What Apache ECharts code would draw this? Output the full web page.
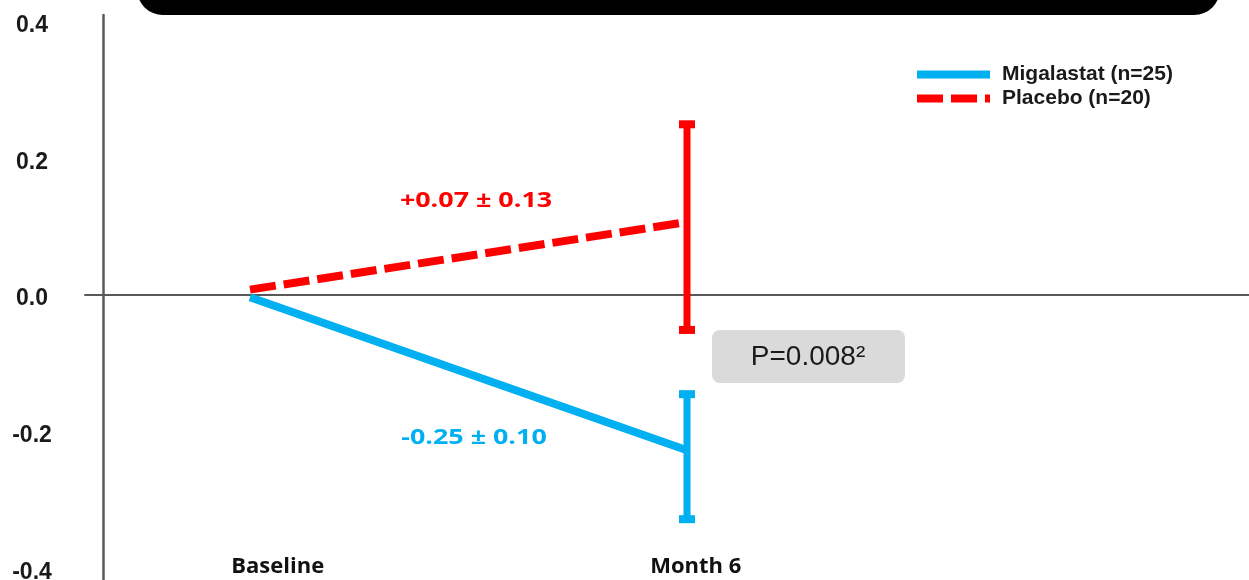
<!DOCTYPE html>
<html>
<head>
<meta charset="utf-8">
<script src="https://cdn.jsdelivr.net/npm/echarts@6/dist/echarts.min.js"></script>
<style>
html,body{margin:0;padding:0;background:#fff;}
#chart{width:1249px;height:580px;}
</style>
</head>
<body>
<div id="chart"></div>
<script>
// ---- data ----
const categories = ['Baseline', 'Month 6'];
const months = [0, 6];
const seriesNames = ['Migalastat (n=25)', 'Placebo (n=20)'];
const migalastatMean = [-0.003, -0.227];
const migalastatLow = [null, -0.328];
const migalastatHigh = [null, -0.145];
const placeboMean = [0.008, 0.107];
const placeboLow = [null, -0.051];
const placeboHigh = [null, 0.250];
const yTicks = [-0.4, -0.2, 0.0, 0.2, 0.4];
const changeLabels = ['-0.25 ± 0.10', '+0.07 ± 0.13'];
const pValueText = 'P=0.008²';

const BLUE = '#00B0F0', RED = '#FF0000', AXIS = '#595959';

function pairs(xs, ys) { return xs.map((x, i) => [x, ys[i]]); }
function bars(xs, lo, hi) {
  const out = [];
  xs.forEach((x, i) => { if (lo[i] != null) out.push([x, lo[i], hi[i]]); });
  return out;
}
function errorBar(color) {
  return function (params, api) {
    const x = api.value(0);
    const pTop = api.coord([x, api.value(2)]);
    const pBot = api.coord([x, api.value(1)]);
    const bw = 7, cw = 16, ch = 8;
    return {
      type: 'group',
      children: [
        { type: 'rect', shape: { x: pTop[0] - bw / 2, y: pTop[1], width: bw, height: pBot[1] - pTop[1] }, style: { fill: color } },
        { type: 'rect', shape: { x: pTop[0] - cw / 2, y: pTop[1] - ch / 2, width: cw, height: ch }, style: { fill: color } },
        { type: 'rect', shape: { x: pBot[0] - cw / 2, y: pBot[1] - ch / 2, width: cw, height: ch }, style: { fill: color } }
      ]
    };
  };
}

const chart = echarts.init(document.getElementById('chart'), null, { renderer: 'canvas' });
const xMin = -2.266, xMax = 13.717;
chart.setOption({
  animation: false,
  backgroundColor: '#ffffff',
  grid: { left: 85, right: 0, top: 15, bottom: 0, containLabel: false, outerBoundsMode: 'none' },
  legend: {
    data: seriesNames,
    orient: 'vertical',
    left: 908, top: 59,
    itemWidth: 73, itemHeight: 10, itemGap: 3,
    itemStyle: { opacity: 0 },
    lineStyle: { width: 8 },
    textStyle: { fontFamily: '"Liberation Sans", Arial, sans-serif', fontWeight: 'bold', fontSize: 21, color: '#1a1a1a', padding: [0, 0, 0, 7] }
  },
  xAxis: [
    {
      type: 'value', min: xMin, max: xMax,
      axisLine: { show: true, onZero: true, lineStyle: { color: AXIS, width: 2 } },
      axisTick: { show: false }, axisLabel: { show: false }, splitLine: { show: false }
    },
    {
      type: 'value', min: xMin, max: xMax, position: 'bottom',
      axisLine: { show: false, onZero: false }, axisTick: { show: false }, splitLine: { show: false },
      axisLabel: {
        show: true,
        customValues: [months[0] + 0.38, months[1] + 0.12],
        formatter: function (v) {
          let best = 0;
          months.forEach((m, i) => { if (Math.abs(m - v) < Math.abs(months[best] - v)) best = i; });
          return categories[best];
        },
        margin: -13, verticalAlign: 'middle',
        fontFamily: '"Open Sans", sans-serif', fontWeight: 'bold', fontSize: 22, color: '#111'
      }
    }
  ],
  yAxis: {
    type: 'value', min: -0.417, max: 0.41, offset: -18,
    axisLine: { show: true, onZero: false, lineStyle: { color: AXIS, width: 2.5 } },
    axisTick: { show: false }, splitLine: { show: false },
    axisLabel: {
      customValues: yTicks,
      formatter: v => '{t|' + v.toFixed(1) + '}',
      margin: 71, align: 'center',
      rich: { t: { padding: [8, 0, 0, 0], fontFamily: '"Liberation Sans", Arial, sans-serif', fontWeight: 'bold', fontSize: 23, color: '#1a1a1a' } },
      fontFamily: '"Liberation Sans", Arial, sans-serif', fontWeight: 'bold', fontSize: 23, color: '#1a1a1a'
    }
  },
  series: [
    {
      name: seriesNames[0], type: 'line', data: pairs(months, migalastatMean),
      symbol: 'none', color: BLUE,
      lineStyle: { color: BLUE, width: 8, cap: 'butt' }, z: 3
    },
    {
      name: seriesNames[1], type: 'line', data: pairs(months, placeboMean),
      symbol: 'none', color: RED,
      lineStyle: { color: RED, width: 8, type: [26, 8], cap: 'butt' }, z: 3
    },
    { type: 'custom', name: 'errM', data: bars(months, migalastatLow, migalastatHigh), renderItem: errorBar(BLUE), z: 4 },
    { type: 'custom', name: 'errP', data: bars(months, placeboLow, placeboHigh), renderItem: errorBar(RED), z: 4 }
  ],
  graphic: [
    { type: 'rect', shape: { x: 137, y: -60, width: 1083, height: 75, r: 26 }, style: { fill: '#000' }, z: 10 },
    { type: 'text', x: 476, y: 201, scaleX: 1.28, style: { text: changeLabels[1], align: 'center', verticalAlign: 'middle', font: 'bold 21px "Open Sans", sans-serif', fill: RED } },
    { type: 'text', x: 474, y: 438, scaleX: 1.28, style: { text: changeLabels[0], align: 'center', verticalAlign: 'middle', font: 'bold 21px "Open Sans", sans-serif', fill: BLUE } },
    { type: 'rect', shape: { x: 712, y: 330, width: 193, height: 53, r: 8 }, style: { fill: '#DADADA' } },
    { type: 'text', x: 808, y: 357, style: { text: pValueText, align: 'center', verticalAlign: 'middle', font: '28px "Liberation Sans", Arial, sans-serif', fill: '#1a1a1a' } }
  ]
});
</script>
</body>
</html>
